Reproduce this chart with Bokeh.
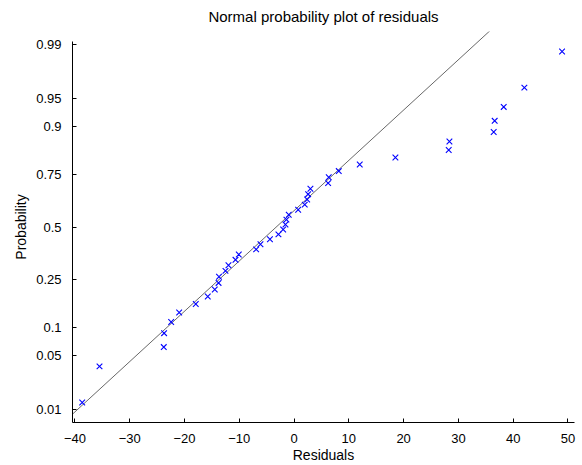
from statistics import NormalDist
from bokeh.plotting import figure
from bokeh.models import Range1d, FixedTicker, CustomJSTickFormatter, ColumnDataSource
from bokeh.embed import file_html
from bokeh.resources import INLINE

# Residuals (sorted ascending)
residuals = [-38.67, -35.51, -23.78, -23.72, -22.43, -20.97, -17.94, -15.75,
             -14.47, -13.78, -13.70, -12.52, -11.97, -10.69, -10.09, -6.92,
             -6.13, -4.40, -2.85, -1.99, -1.57, -1.39, -0.97, 0.75,
             1.95, 2.39, 2.57, 2.99, 6.22, 6.33, 8.16, 11.99,
             18.50, 28.23, 28.36, 36.44, 36.62, 38.27, 42.04, 48.92]

tick_probs = [0.01, 0.05, 0.1, 0.25, 0.5, 0.75, 0.9, 0.95, 0.99]
tick_labels = ["0.01", "0.05", "0.1", "0.25", "0.5", "0.75", "0.9", "0.95", "0.99"]
x_ticks = [-40, -30, -20, -10, 0, 10, 20, 30, 40, 50]

nd = NormalDist()
xs = sorted(residuals)
n = len(xs)
# normal-probability plotting positions (normplot)
probs = [(i + 0.5) / n for i in range(n)]
zs = [nd.inv_cdf(p) for p in probs]


def prctile(sx, pct):
    pos = pct / 100.0 * len(sx) + 0.5  # 1-based position (MATLAB style)
    lo = int(pos)
    frac = pos - lo
    if lo < 1:
        return sx[0]
    if lo >= len(sx):
        return sx[-1]
    return sx[lo - 1] + frac * (sx[lo] - sx[lo - 1])


q1, q3 = prctile(xs, 25), prctile(xs, 75)
zq1, zq3 = nd.inv_cdf(0.25), nd.inv_cdf(0.75)
slope = (zq3 - zq1) / (q3 - q1)

x_lo, x_hi = -40.44, 51.19
z_lim = -nd.inv_cdf(0.25 / n)
y_axis_top = 2.37  # the drawn probability axis stops a little below the plot top
line_x = [x_lo, x_hi]
line_z = [zq1 + slope * (x - q1) for x in line_x]

FONT = "Liberation Sans"

p = figure(width=582, height=465, output_backend="svg", toolbar_location=None,
           x_range=Range1d(x_lo, x_hi), y_range=Range1d(-z_lim, z_lim),
           title="Normal probability plot of residuals",
           min_border_left=72, min_border_right=8, min_border_top=31,
           min_border_bottom=42)

p.outline_line_color = None
p.xgrid.visible = False
p.ygrid.visible = False
p.background_fill_color = "white"
p.border_fill_color = "white"

p.title.align = "center"
p.title.vertical_align = "top"
p.title.text_font = FONT
p.title.text_font_size = "15px"
p.title.text_font_style = "normal"
p.title.text_color = "black"
p.title.standoff = 10

p.line(line_x, line_z, line_color="black", line_width=0.6)
src = ColumnDataSource(dict(x=xs, z=zs))
p.scatter("x", "z", source=src, marker="x", size=8, line_color="blue", line_width=1.1)

xa = p.xaxis[0]
xa.ticker = FixedTicker(ticks=x_ticks)
xa.axis_label = "Residuals"
ya = p.yaxis[0]
ya.ticker = FixedTicker(ticks=[nd.inv_cdf(q) for q in tick_probs])
ya.formatter = CustomJSTickFormatter(
    args=dict(zs=[nd.inv_cdf(q) for q in tick_probs], labels=tick_labels),
    code="""
let best = 0, bd = 1e9;
for (let i = 0; i < zs.length; i++) {
  const d = Math.abs(zs[i] - tick);
  if (d < bd) { bd = d; best = i; }
}
return labels[best];
""")
ya.axis_label = "Probability"
ya.bounds = (-z_lim, y_axis_top)

for ax in (xa, ya):
    ax.minor_tick_line_color = None
    ax.major_tick_in = 4
    ax.major_tick_out = 0
    ax.axis_line_color = "black"
    ax.major_tick_line_color = "black"
    ax.major_label_text_font = FONT
    ax.major_label_text_font_size = "13px"
    ax.major_label_text_color = "black"
    ax.axis_label_text_font = FONT
    ax.axis_label_text_font_size = "14px"
    ax.axis_label_text_font_style = "normal"
    ax.axis_label_text_color = "black"

xa.major_label_standoff = 11
xa.axis_label_standoff = 1
ya.major_label_standoff = 11
ya.axis_label_standoff = 4

open("out.html", "w").write(file_html(p, INLINE))
